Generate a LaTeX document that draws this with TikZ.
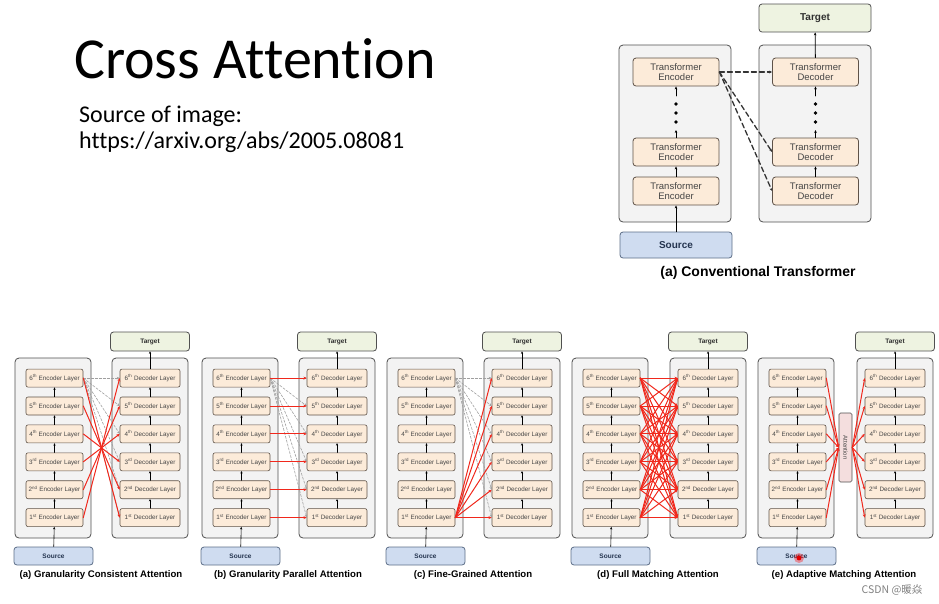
\documentclass[tikz,border=0pt]{standalone}
\usepackage{fontspec}
\setmainfont{Liberation Sans}
\newfontfamily\slidefont[Ligatures=NoCommon]{Carlito}
\newfontfamily\cjkfont{Noto Sans CJK SC}
\usetikzlibrary{arrows.meta}

\definecolor{framegray}{HTML}{505050}
\definecolor{panelgray}{HTML}{F3F3F3}
\definecolor{blockline}{HTML}{5E5248}
\definecolor{blockfill}{HTML}{FCEBD9}
\definecolor{txtgray}{HTML}{454545}
\definecolor{txtdark}{HTML}{303030}
\definecolor{targetgreen}{HTML}{EEF3E1}
\definecolor{sourceblue}{HTML}{CFDCF0}
\definecolor{sourceline}{HTML}{5D6E88}
\definecolor{sourcetext}{HTML}{24344F}
\definecolor{attnred}{HTML}{F0281C}
\definecolor{attnpink}{HTML}{F4DEDE}

\begin{document}
\begin{tikzpicture}[x=1pt, y=-1pt, line cap=round, line join=round, >={Stealth[length=3pt,width=2.6pt]}]
\tikzstyle{panelframe}=[draw=framegray, fill=panelgray, rounded corners=4pt, line width=0.8pt]
\tikzstyle{bigblock}=[draw=blockline, fill=blockfill, rounded corners=3pt, line width=0.8pt, minimum width=86, minimum height=28, inner sep=0pt, align=center, text=txtgray, font=\fontsize{9.5}{10.5}\selectfont]
\tikzstyle{layerbox}=[draw=blockline, fill=blockfill, rounded corners=2pt, line width=0.6pt, minimum height=18, inner sep=0pt, text=txtgray, font=\fontsize{6.3}{7}\selectfont]
\tikzstyle{tgtbox}=[draw=framegray, fill=targetgreen, rounded corners=3pt, line width=0.8pt, inner sep=0pt, text=txtdark]
\tikzstyle{srcbox}=[draw=sourceline, fill=sourceblue, rounded corners=3pt, line width=0.8pt, inner sep=0pt, text=sourcetext]
\tikzstyle{flow}=[->, line width=0.8pt, black]
\tikzstyle{smallflow}=[-{Stealth[length=2.4pt,width=2.2pt]}, line width=0.6pt, black]
\tikzstyle{bigdash}=[->, dash pattern=on 5pt off 3pt, line width=1.3pt, black!80]
\tikzstyle{dashlink}=[->, dash pattern=on 2.5pt off 1.5pt, line width=0.6pt, draw=gray!75]
\tikzstyle{redlink}=[-{Stealth[length=3.2pt,width=2.8pt]}, line width=1pt, draw=attnred]
\useasboundingbox (0,0) rectangle (939,603);

% slide text
\node[anchor=base west, inner sep=0pt, font=\slidefont\fontsize{58}{62}\selectfont] (title) at (74,78) {Cross Attention};
\node[anchor=base west, inner sep=0pt, font=\slidefont\fontsize{24}{28}\selectfont] (ref1) at (79,122) {Source of image:};
\node[anchor=base west, inner sep=0pt, font=\slidefont\fontsize{24}{28}\selectfont] (ref2) at (79,148) {https://arxiv.org/abs/2005.08081};

% (a) conventional transformer
\draw[panelframe] (619,45) rectangle (731,222);
\draw[panelframe] (759,45) rectangle (871,222);
\node[bigblock] (enc1) at (676,191) {Transformer\\Encoder};
\node[bigblock] (enc2) at (676,152) {Transformer\\Encoder};
\node[bigblock] (encN) at (676,72) {Transformer\\Encoder};
\node[bigblock] (dec1) at (815.5,191) {Transformer\\Decoder};
\node[bigblock] (dec2) at (815.5,152) {Transformer\\Decoder};
\node[bigblock] (decN) at (815.5,72) {Transformer\\Decoder};
\node[tgtbox, minimum width=112, minimum height=28, font=\fontsize{10}{11}\selectfont\bfseries] (tgt) at (815,18) {Target};
\node[srcbox, minimum width=112, minimum height=26, font=\fontsize{10}{11}\selectfont\bfseries] (src) at (676,245) {Source};
\coordinate (encLo) at (676,130);
\coordinate (encHi) at (676,96);
\coordinate (decLo) at (815.5,130);
\coordinate (decHi) at (815.5,96);
\draw[flow] (src) -- (enc1);
\draw[flow] (enc1) -- (enc2);
\draw[flow] (enc2) -- (encLo);
\draw[flow] (encHi) -- (encN);
\draw[flow] (dec1) -- (dec2);
\draw[flow] (dec2) -- (decLo);
\draw[flow] (decHi) -- (decN);
\draw[flow] (decN) -- (tgt);
\foreach \y in {104,113,122} {
  \fill (676,\y) circle (1.8);
  \fill (815.5,\y) circle (1.8);
}
\draw[bigdash] (encN.east) -- (decN.west);
\draw[bigdash] (encN.east) -- (dec2.west);
\draw[bigdash] (encN.east) -- (dec1.west);
\node[font=\fontsize{14}{16}\selectfont\bfseries] (capConv) at (758,273) {(a) Conventional Transformer};

% five attention variants
\foreach \p/\x/\g/\capt in {a/15/21/{(a) Granularity Consistent Attention},
                            b/202/21/{(b) Granularity Parallel Attention},
                            c/387/21/{(c) Fine-Grained Attention},
                            d/572/22/{(d) Full Matching Attention},
                            e/758/23/{(e) Adaptive Matching Attention}} {
  \draw[panelframe] (\x,358) rectangle ++(76,180);
  \draw[panelframe] (\x+76+\g,358) rectangle ++(76,180);
  \foreach \i/\sfx in {1/st,2/nd,3/rd,4/th,5/th,6/th} {
    \node[layerbox, minimum width=57] (e\p\i) at (\x+39.5,545.5-\i*27.9) {\i\textsuperscript{\sfx} Encoder Layer};
    \node[layerbox, minimum width=60] (d\p\i) at (\x+114+\g,545.5-\i*27.9) {\i\textsuperscript{\sfx} Decoder Layer};
  }
  \foreach \j/\i in {1/2,2/3,3/4,4/5,5/6} {
    \draw[smallflow] (e\p\j) -- (e\p\i);
    \draw[smallflow] (d\p\j) -- (d\p\i);
  }
  \node[srcbox, minimum width=79, minimum height=18, font=\fontsize{6.5}{7}\selectfont\bfseries] (s\p) at (\x+38.5,556) {Source};
  \node[tgtbox, minimum width=79, minimum height=19, font=\fontsize{6.5}{7}\selectfont\bfseries] (t\p) at (\x+114+\g,341.5) {Target};
  \draw[smallflow] (s\p) -- (e\p1);
  \draw[smallflow] (d\p6) -- (t\p);
  \node[font=\fontsize{9.6}{11}\selectfont\bfseries] (c\p) at (\x+86,575.5) {\capt};
}

% (a) consistent
\foreach \i in {1,...,6}
  \draw[dashlink] (ea6.east) -- (da\i.west);
\foreach \i [evaluate=\i as \k using int(7-\i)] in {1,...,6}
  \draw[redlink] (ea\i.east) -- (da\k.west);

% (b) parallel
\foreach \i in {1,...,6}
  \draw[dashlink] (eb6.east) -- (db\i.west);
\foreach \i in {1,...,6}
  \draw[redlink] (eb\i.east) -- (db\i.west);

% (c) fine-grained
\foreach \i in {1,...,6}
  \draw[dashlink] (ec6.east) -- (dc\i.west);
\foreach \i in {1,...,6}
  \draw[redlink] (ec1.east) -- (dc\i.west);

% (d) full matching
\foreach \i in {1,...,6}
  \foreach \j in {1,...,6}
    \draw[redlink] (ed\i.east) -- (dd\j.west);

% (e) adaptive matching
\node[draw=framegray, fill=attnpink, rounded corners=1.5pt, line width=0.6pt, minimum width=13, minimum height=69, inner sep=0pt, font=\fontsize{6}{7}\selectfont, text=txtgray] (att) at (845.5,447.5) {\rotatebox{-90}{Attention}};
\foreach \i in {1,...,6} {
  \draw[redlink] (ee\i.east) -- (att.west);
  \draw[redlink] (att.east) -- (de\i.west);
}

% screen marks
\fill[red, opacity=0.35] (799,558) circle (5);
\fill[red!90!black] (799,558) circle (2.4);
\node[anchor=east, font=\cjkfont\fontsize{10.5}{12}\selectfont, text=gray] (mark) at (926,590) {CSDN @暖焱};
\end{tikzpicture}
\end{document}
